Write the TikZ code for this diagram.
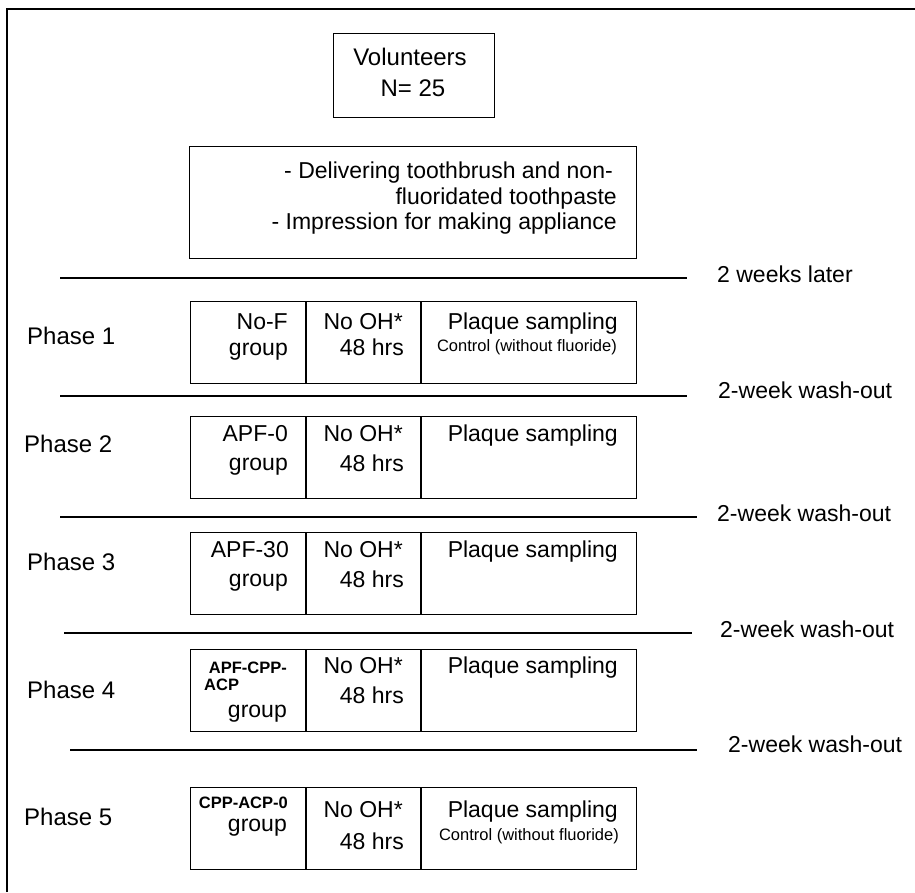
\documentclass[tikz,border=0pt]{standalone}
\usepackage{fontspec}
\setmainfont{Liberation Sans}
\usetikzlibrary{positioning}

\begin{document}
\begin{tikzpicture}[
    x=1pt, y=-1pt,
    every node/.style={inner sep=0pt, font=\fontsize{23}{26}\selectfont},
    box/.style={draw, line width=1.2pt, anchor=north west},
    cell/.style={box, minimum height=82pt},
    divider/.style={line width=2.2pt},
    sepline/.style={line width=1.2pt},
    rtxt/.style={anchor=base east},
    ltxt/.style={anchor=base west},
    bigtxt/.style={font=\fontsize{24}{27}\selectfont},
    smalltxt/.style={font=\fontsize{16.5}{18}\selectfont},
    grptxt/.style={font=\fontsize{16.5}{18}\selectfont\bfseries},
  ]
    \useasboundingbox (0,0) rectangle (915,892);

    % 外框（仅左边与上边）
    \draw[line width=1.6pt] (7,892) -- (7,9) -- (915,9);

    % 受试者
    \node[box, minimum width=161pt, minimum height=84pt] (vol) at (333,33) {};
    \node[anchor=base, bigtxt] (volA) at (410,65) {Volunteers};
    \node[anchor=base, bigtxt] (volB) at (413,96) {N= 25};

    % 准备工作
    \node[box, minimum width=447pt, minimum height=112pt] (prep) at (189,146) {};
    \node[rtxt] (prepA) at (613,178) {- Delivering toothbrush and non-};
    \node[rtxt] (prepB) at (617,204) {fluoridated toothpaste};
    \node[rtxt] (prepC) at (617,229) {- Impression for making appliance};

    % 分隔线与右侧说明
    \foreach \i/\y/\xa/\xb/\lx/\b/\txt in {
        1/278/60/687/717/282/2 weeks later,
        2/396/60/687/718/398/2-week wash-out,
        3/517/60/697/717/521/2-week wash-out,
        4/633/64/692/720/637/2-week wash-out,
        5/750/70/697/728/752/2-week wash-out} {
      \coordinate (sepA\i) at (\xa,\y);
      \coordinate (sepB\i) at (\xb,\y);
      \draw[sepline] (sepA\i) -- (sepB\i);
      \node[ltxt] (wash\i) at (\lx,\b) {\txt};
    }

    % 各阶段的三格表
    \foreach \i/\t/\b/\d in {1/301/329/26, 2/416/441/30, 3/532/557/30,
                             4/649/673/30, 5/787/817/32} {
      \node[cell, minimum width=115pt] (grp\i) at (190,\t) {};
      \node[cell, minimum width=115pt] (oh\i) at (305,\t) {};
      \node[cell, minimum width=216pt] (plq\i) at (420,\t) {};
      \draw[divider] (grp\i.north east) -- (grp\i.south east);
      \draw[divider] (oh\i.north east) -- (oh\i.south east);
      \node[rtxt] (ohA\i) at (403,\b) {No OH*};
      \node[rtxt] (ohB\i) at (404,{\b+\d}) {48 hrs};
      \node[rtxt] (plqA\i) at (618,\b) {Plaque sampling};
    }

    % 阶段标签
    \foreach \i/\x/\b in {1/27/344, 2/24/452, 3/27/570, 4/27/698, 5/24/825}
      \node[ltxt, bigtxt] (ph\i) at (\x,\b) {Phase \i};

    % 分组名称
    \node[rtxt] (grpA1) at (288,329) {No-F};
    \node[rtxt] (grpB1) at (288,355) {group};
    \node[rtxt] (grpA2) at (288,441) {APF-0};
    \node[rtxt] (grpB2) at (288,470) {group};
    \node[rtxt] (grpA3) at (289,557) {APF-30};
    \node[rtxt] (grpB3) at (288,586) {group};
    \node[rtxt, grptxt] (grpA4) at (287,673) {APF-CPP-};
    \node[ltxt, grptxt] (grpC4) at (204,690) {ACP};
    \node[rtxt] (grpB4) at (287,717) {group};
    \node[rtxt, grptxt] (grpA5) at (288,808) {CPP-ACP-0};
    \node[rtxt] (grpB5) at (287,831) {group};

    % 对照组备注
    \node[rtxt, smalltxt] (ctrl1) at (617,351) {Control (without fluoride)};
    \node[rtxt, smalltxt] (ctrl5) at (619,840) {Control (without fluoride)};
\end{tikzpicture}
\end{document}
